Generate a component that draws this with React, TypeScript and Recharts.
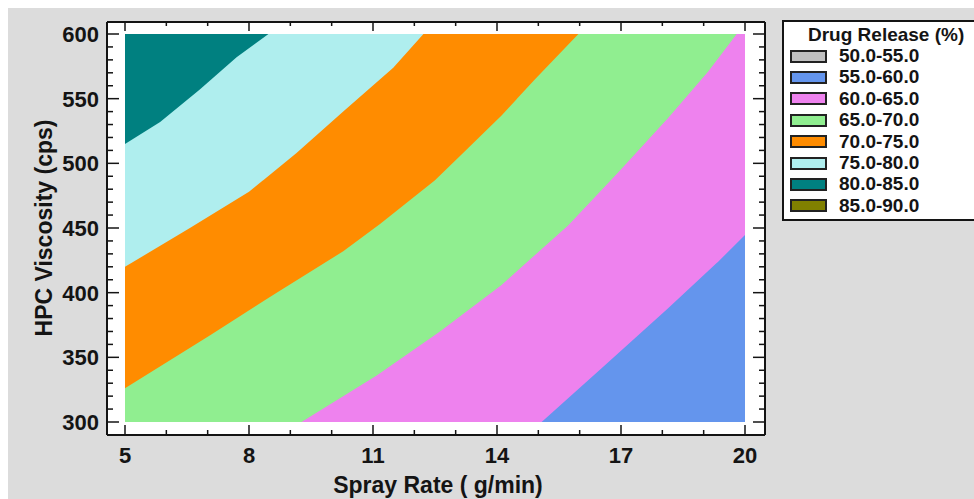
import { ComposedChart, Area, XAxis, YAxis, CartesianGrid, ReferenceArea, Legend } from 'recharts';

const FONT = '"Liberation Sans", Arial, sans-serif';
const INK = '#141414';

const sprayTicks = [5, 6, 7, 8, 9, 10, 11, 12, 13, 14, 15, 16, 17, 18, 19, 20];
const sprayLabels = [5, 8, 11, 14, 17, 20];
const viscTicks = [
  300, 310, 320, 330, 340, 350, 360, 370, 380, 390, 400, 410, 420, 430, 440, 450,
  460, 470, 480, 490, 500, 510, 520, 530, 540, 550, 560, 570, 580, 590, 600,
];
const viscLabels = [300, 350, 400, 450, 500, 550, 600];

const levels = ['50.0-55.0', '55.0-60.0', '60.0-65.0', '65.0-70.0', '70.0-75.0', '75.0-80.0', '80.0-85.0', '85.0-90.0'];
const levelColors = ['#c0c0c0', '#6495ed', '#ee82ee', '#90ee90', '#ff8c00', '#afeeee', '#008080', '#808000'];

// contour edges: spray rate vs viscosity, cut at the frame
const edge80Rate = [5, 5.85, 6.81, 7.7, 8.47, 20];
const edge80Visc = [515, 532, 557, 582, 600, 600];
const edge75Rate = [5, 6.57, 8, 9.15, 10.28, 11.49, 12.22, 20];
const edge75Visc = [420, 450, 478, 508, 540, 574, 600, 600];
const edge70Rate = [5, 7.06, 8.67, 10.28, 11.17, 12.5, 13.31, 14.11, 14.92, 15.97, 20];
const edge70Visc = [326, 367, 400, 432, 453, 487, 512, 537, 565, 600, 600];
const edge65Rate = [5, 9.27, 11.09, 12.62, 14.11, 15.72, 16.93, 18.14, 19.11, 19.8, 20];
const edge65Visc = [300, 300, 336, 370, 406, 452, 493, 535, 571, 600, 600];
const edge60Rate = [5, 15.08, 16.53, 18.14, 19.35, 20];
const edge60Visc = [300, 300, 341.5, 388, 424, 444.5];

const toRows = (rate: number[], visc: number[]) => rate.map((x, i) => ({ rate: x, visc: visc[i] }));

// painted bottom-up: each band fills everything below its upper edge
const bands = [
  { edge: toRows(edge80Rate, edge80Visc), color: levelColors[5] },
  { edge: toRows(edge75Rate, edge75Visc), color: levelColors[4] },
  { edge: toRows(edge70Rate, edge70Visc), color: levelColors[3] },
  { edge: toRows(edge65Rate, edge65Visc), color: levelColors[2] },
  { edge: toRows(edge60Rate, edge60Visc), color: levelColors[1] },
];

const BottomTick = ({ x, y, payload }: any) => {
  const major = sprayLabels.includes(payload.value);
  return (
    <g>
      <line x1={x} x2={x} y1={y} y2={y - (major ? 10 : 5)} stroke={INK} strokeWidth={1.5} />
      {major && (
        <text x={x} y={y + 28} textAnchor="middle" fontFamily={FONT} fontWeight={700} fontSize={22} fill={INK}>
          {payload.value}
        </text>
      )}
    </g>
  );
};

const TopTick = ({ x, y, payload }: any) => {
  const major = sprayLabels.includes(payload.value);
  return <line x1={x} x2={x} y1={y} y2={y + (major ? 9 : 4)} stroke={INK} strokeWidth={1.5} />;
};

const LeftTick = ({ x, y, payload }: any) => {
  const major = viscLabels.includes(payload.value);
  return (
    <g>
      <line x1={x} x2={x + (major ? 12 : 6)} y1={y} y2={y} stroke={INK} strokeWidth={1.5} />
      {major && (
        <text x={x - 8} y={y} dy="0.36em" textAnchor="end" fontFamily={FONT} fontWeight={700} fontSize={22} fill={INK}>
          {payload.value}
        </text>
      )}
    </g>
  );
};

const RightTick = ({ x, y, payload }: any) => {
  const major = viscLabels.includes(payload.value);
  return <line x1={x} x2={x - (major ? 12 : 6)} y1={y} y2={y} stroke={INK} strokeWidth={1.5} />;
};

const DrugLegend = () => (
  <div
    style={{
      position: 'relative',
      width: 200,
      height: 201,
      boxSizing: 'border-box',
      border: `2px solid ${INK}`,
      background: '#fff',
      fontFamily: FONT,
      fontWeight: 700,
      color: INK,
    }}
  >
    <div style={{ position: 'absolute', left: 24, top: 2, fontSize: 19, lineHeight: '22px', whiteSpace: 'nowrap' }}>
      Drug Release (%)
    </div>
    {levels.map((lvl, i) => (
      <div
        key={lvl}
        style={{ position: 'absolute', left: 6, top: 23 + i * 21.4, height: 22, display: 'flex', alignItems: 'center' }}
      >
        <span
          style={{
            display: 'inline-block',
            width: 37,
            height: 13,
            boxSizing: 'border-box',
            border: '2px solid #222',
            background: levelColors[i],
            marginRight: 12,
          }}
        />
        <span style={{ fontSize: 19, lineHeight: '22px' }}>{lvl}</span>
      </div>
    ))}
  </div>
);

export default function App() {
  return (
    <div style={{ position: 'fixed', left: 8, top: 8, width: 966, height: 491, background: '#dcdcdc' }}>
      <ComposedChart width={966} height={491} margin={{ top: 13, right: 208, bottom: 34, left: 39 }}>
        <CartesianGrid horizontal={false} vertical={false} fill="#ffffff" fillOpacity={1} />
        <XAxis
          xAxisId="b"
          type="number"
          dataKey="rate"
          domain={[5, 20]}
          ticks={sprayTicks}
          interval={0}
          padding={{ left: 18, right: 20 }}
          allowDataOverflow
          height={30}
          tickSize={0}
          tickMargin={0}
          tickLine={false}
          tick={<BottomTick />}
          axisLine={{ stroke: INK, strokeWidth: 2 }}
        />
        <XAxis
          xAxisId="t"
          orientation="top"
          type="number"
          dataKey="rate"
          domain={[5, 20]}
          ticks={sprayTicks}
          interval={0}
          padding={{ left: 18, right: 20 }}
          allowDataOverflow
          height={1}
          tickSize={0}
          tickMargin={0}
          tickLine={false}
          tick={<TopTick />}
          axisLine={{ stroke: INK, strokeWidth: 2 }}
        />
        <YAxis
          yAxisId="l"
          type="number"
          dataKey="visc"
          domain={[300, 600]}
          ticks={viscTicks}
          interval={0}
          padding={{ top: 12, bottom: 13 }}
          allowDataOverflow
          width={60}
          tickSize={0}
          tickMargin={0}
          tickLine={false}
          tick={<LeftTick />}
          axisLine={{ stroke: INK, strokeWidth: 2 }}
        />
        <YAxis
          yAxisId="r"
          orientation="right"
          type="number"
          dataKey="visc"
          domain={[300, 600]}
          ticks={viscTicks}
          interval={0}
          padding={{ top: 12, bottom: 13 }}
          allowDataOverflow
          width={1}
          tickSize={0}
          tickMargin={0}
          tickLine={false}
          tick={<RightTick />}
          axisLine={{ stroke: INK, strokeWidth: 2 }}
        />
        <ReferenceArea
          xAxisId="b"
          yAxisId="l"
          x1={5}
          x2={20}
          y1={300}
          y2={600}
          fill={levelColors[6]}
          fillOpacity={1}
          stroke="none"
        />
        {bands.map((b, i) => (
          <Area
            key={i}
            xAxisId="b"
            yAxisId="l"
            data={b.edge}
            dataKey="visc"
            type="linear"
            baseValue="dataMin"
            fill={b.color}
            fillOpacity={1}
            stroke="none"
            dot={false}
            activeDot={false}
            isAnimationActive={false}
          />
        ))}
        <text x={430} y={485} textAnchor="middle" fontFamily={FONT} fontWeight={700} fontSize={23} fill={INK}>
          Spray Rate ( g/min)
        </text>
        <text
          x={36}
          y={220}
          dy="0.36em"
          textAnchor="middle"
          transform="rotate(-90, 36, 220)"
          fontFamily={FONT}
          fontWeight={700}
          fontSize={23}
          fill={INK}
        >
          HPC Viscosity (cps)
        </text>
        <Legend
          layout="vertical"
          align="center"
          verticalAlign="middle"
          wrapperStyle={{ left: 774, top: 12, width: 200, height: 201 }}
          content={() => <DrugLegend />}
        />
      </ComposedChart>
    </div>
  );
}
